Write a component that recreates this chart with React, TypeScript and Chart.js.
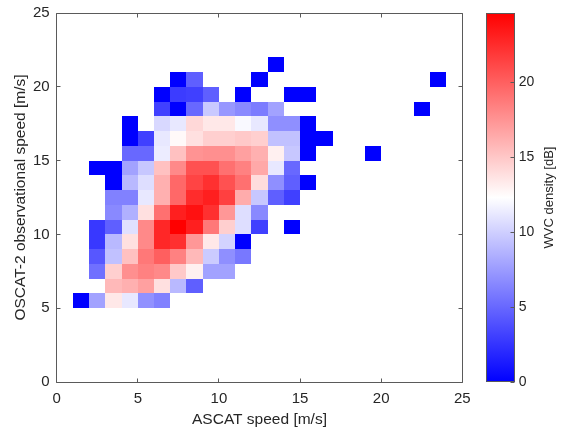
import React, { useEffect, useRef } from "react";
import { Chart, registerables } from "chart.js";

Chart.register(...registerables);

const N = null;

// Axis ticks
const xTickValues = [0, 5, 10, 15, 20, 25];
const yTickValues = [0, 5, 10, 15, 20, 25];
const colorbarTicks = [0, 5, 10, 15, 20];
const COLOR_MAX = 24.6;

// WVC density [dB] per 1 m/s bin; index = ASCAT speed bin start (0..23)
const row5 = [N, 0, 7.8, 13.4, 11.2, 7.0, 6.2];
const row6 = [N, N, 12.3, 15.7, 16.1, 16.9, 13.8, 8.9, 4.6];
const row7 = [N, N, 5.4, 14.6, 17.7, 18.4, 18.0, 14.9, 13.0, 7.8, 7.8];
const row8 = [N, N, 4.2, 9.3, 15.3, 18.8, 20.0, 18.4, 15.7, 9.8, 6.9, 5.8];
const row9 = [N, N, 2.7, 8.9, 13.8, 18.0, 22.7, 22.3, 17.3, 13.4, 10.2, 0];
const row10 = [N, N, 2.7, 4.6, 10.8, 18.0, 22.7, 24.6, 23.1, 18.8, 14.6, 10.7, 3.1, N, 0];
const row11 = [N, N, N, 6.6, 8.5, 13.8, 19.2, 23.1, 23.8, 22.3, 17.3, 10.7, 6.6];
const row12 = [N, N, N, 6.2, 6.2, 11.2, 16.1, 19.6, 22.5, 23.1, 21.5, 16.3, 9.6, 4.6, 3.1];
const row13 = [N, N, N, 0, 8.9, 10.7, 16.1, 19.6, 21.3, 22.3, 20.7, 19.2, 14.0, 6.9, 4.6, 0];
const row14 = [N, N, 0, 0, 7.8, 9.6, 15.3, 18.0, 20.7, 20.7, 19.2, 18.4, 16.5, 11.2, 5.0];
const row15 = [N, N, N, N, 5.0, 5.0, 11.4, 15.3, 17.5, 17.7, 17.7, 16.9, 16.1, 13.0, 9.6, 0, N, N, N, 0];
const row16 = [N, N, N, N, 0, 3.1, 11.2, 12.6, 13.8, 14.6, 14.6, 14.9, 14.6, 9.3, 9.3, 0, 0];
const row17 = [N, N, N, N, 0, N, 10.4, 11.2, 14.2, 13.4, 13.4, 12.0, 11.2, 6.9, 6.9, 0];
const row18 = [N, N, N, N, N, N, 3.1, 0, 5.0, 9.7, 7.3, 6.6, 6.0, 7.8, N, N, N, N, N, N, N, N, 0];
const row19 = [N, N, N, N, N, N, 0, 2.9, 3.1, 4.6, N, 0, N, N, 0, 0];
const row20 = [N, N, N, N, N, N, N, 0, 4.6, N, N, N, 0, N, N, N, N, N, N, N, N, N, N, 0];
const row21 = [N, N, N, N, N, N, N, N, N, N, N, N, N, 0];

// OSCAT-2 speed bin start for each row
const rowBins = [5, 6, 7, 8, 9, 10, 11, 12, 13, 14, 15, 16, 17, 18, 19, 20, 21];
const rows = [row5, row6, row7, row8, row9, row10, row11, row12, row13, row14, row15, row16, row17, row18, row19, row20, row21];

const FONT = "'Liberation Sans', Arial, Helvetica, sans-serif";
const TEXT = "#262626";
const AXIS = "#5a5a5a";

function colorFor(v: number): string {
  const mid = COLOR_MAX / 2;
  const t = Math.max(0, Math.min(COLOR_MAX, v));
  if (t <= mid) {
    const k = Math.round((255 * t) / mid);
    return `rgb(${k},${k},255)`;
  }
  const k = Math.round((255 * (COLOR_MAX - t)) / mid);
  return `rgb(255,${k},${k})`;
}

const heatPlugin = {
  id: "heatCells",
  beforeDatasetsDraw(chart: any) {
    const { ctx } = chart;
    const xs = chart.scales.x;
    const ys = chart.scales.y;
    const ds = chart.data.datasets[0];
    ctx.save();
    for (const p of ds.data as any[]) {
      const x0 = Math.round(xs.getPixelForValue(p.bx));
      const x1 = Math.round(xs.getPixelForValue(p.bx + 1));
      const y0 = Math.round(ys.getPixelForValue(p.by + 1));
      const y1 = Math.round(ys.getPixelForValue(p.by));
      ctx.fillStyle = colorFor(p.v);
      ctx.fillRect(x0, y0, x1 - x0, y1 - y0);
    }
    ctx.restore();
  },
};

const framePlugin = {
  id: "frameAndColorbar",
  afterDraw(chart: any) {
    const { ctx, chartArea } = chart;
    const xs = chart.scales.x;
    const ys = chart.scales.y;
    const cb = chart.scales.cb;
    const L = Math.floor(chartArea.left) + 0.5;
    const R = Math.floor(chartArea.right) + 0.5;
    const T = Math.floor(chartArea.top) + 0.5;
    const B = Math.floor(chartArea.bottom) + 0.5;
    const tl = 4;
    ctx.save();
    ctx.strokeStyle = AXIS;
    ctx.lineWidth = 1;
    ctx.beginPath();
    ctx.rect(L, T, R - L, B - T);
    for (const v of xTickValues) {
      const px = Math.floor(xs.getPixelForValue(v)) + 0.5;
      ctx.moveTo(px, B);
      ctx.lineTo(px, B - tl);
      ctx.moveTo(px, T);
      ctx.lineTo(px, T + tl);
    }
    for (const v of yTickValues) {
      const py = Math.floor(ys.getPixelForValue(v)) + 0.5;
      ctx.moveTo(L, py);
      ctx.lineTo(L + tl, py);
      ctx.moveTo(R, py);
      ctx.lineTo(R - tl, py);
    }
    ctx.stroke();

    // colorbar
    const cbLeft = 486;
    const cbRight = 515;
    const cbTop = Math.round(cb.getPixelForValue(COLOR_MAX));
    const cbBottom = Math.round(cb.getPixelForValue(0));
    const g = ctx.createLinearGradient(0, cbBottom, 0, cbTop);
    g.addColorStop(0, colorFor(0));
    g.addColorStop(0.5, colorFor(COLOR_MAX / 2));
    g.addColorStop(1, colorFor(COLOR_MAX));
    ctx.fillStyle = g;
    ctx.fillRect(cbLeft, cbTop, cbRight - cbLeft, cbBottom - cbTop);
    ctx.beginPath();
    ctx.rect(cbLeft + 0.5, cbTop + 0.5, cbRight - cbLeft - 1, cbBottom - cbTop - 1);
    for (const v of colorbarTicks) {
      const py = Math.floor(cb.getPixelForValue(v)) + 0.5;
      ctx.moveTo(cbRight - 0.5, py);
      ctx.lineTo(cbRight - 0.5 - tl, py);
    }
    ctx.stroke();

    // colorbar label
    ctx.translate(549, (cbTop + cbBottom) / 2);
    ctx.rotate(-Math.PI / 2);
    ctx.fillStyle = TEXT;
    ctx.font = `13px ${FONT}`;
    ctx.textAlign = "center";
    ctx.textBaseline = "middle";
    ctx.fillText("WVC density [dB]", 0, 0);
    ctx.restore();
  },
};

export default function App() {
  const ref = useRef<HTMLCanvasElement | null>(null);

  useEffect(() => {
    if (!ref.current) return;
    const points: any[] = [];
    rows.forEach((row, ri) => {
      row.forEach((v, ci) => {
        if (v === null || v === undefined) return;
        points.push({ x: ci + 0.5, y: rowBins[ri] + 0.5, bx: ci, by: rowBins[ri], v });
      });
    });

    const chart = new Chart(ref.current, {
      type: "scatter",
      data: {
        datasets: [
          {
            data: points,
            pointRadius: 0,
            pointHoverRadius: 0,
            xAxisID: "x",
            yAxisID: "y",
          },
        ],
      },
      options: {
        responsive: false,
        animation: false,
        events: [],
        layout: { padding: { left: 0, right: 0, top: 13, bottom: 0 } },
        plugins: {
          legend: { display: false },
          tooltip: { enabled: false },
        },
        scales: {
          x: {
            type: "linear",
            position: "bottom",
            min: 0,
            max: 25,
            afterBuildTicks: (s: any) => {
              s.ticks = xTickValues.map((value) => ({ value }));
            },
            ticks: { font: { family: FONT, size: 15 }, color: TEXT, padding: 8, maxRotation: 0, autoSkip: false },
            grid: { display: false, drawTicks: false },
            border: { display: false },
            title: {
              display: true,
              text: "ASCAT speed [m/s]",
              font: { family: FONT, size: 15.5 },
              color: TEXT,
              padding: { top: 0, bottom: 1.7 },
            },
            afterFit: (s: any) => {
              s.height = 49;
              s.paddingLeft = 0;
              s.paddingRight = 0;
            },
          },
          y: {
            type: "linear",
            position: "left",
            min: 0,
            max: 25,
            afterBuildTicks: (s: any) => {
              s.ticks = yTickValues.map((value) => ({ value }));
            },
            ticks: { font: { family: FONT, size: 15 }, color: TEXT, padding: 7, autoSkip: false },
            grid: { display: false, drawTicks: false },
            border: { display: false },
            title: {
              display: true,
              text: "OSCAT-2 observational speed [m/s]",
              font: { family: FONT, size: 15.5 },
              color: TEXT,
              padding: { top: 11.7, bottom: 0 },
            },
            afterFit: (s: any) => {
              s.width = 56.7;
              s.paddingTop = 0;
              s.paddingBottom = 0;
            },
          },
          cb: {
            type: "linear",
            position: "right",
            min: 0,
            max: COLOR_MAX,
            afterBuildTicks: (s: any) => {
              s.ticks = colorbarTicks.map((value) => ({ value }));
            },
            ticks: { font: { family: FONT, size: 14 }, color: TEXT, padding: 56.5, autoSkip: false },
            grid: { display: false, drawTicks: false },
            border: { display: false },
            afterFit: (s: any) => {
              s.width = 98.7;
              s.paddingTop = 0;
              s.paddingBottom = 0;
            },
          },
        } as any,
      },
      plugins: [heatPlugin, framePlugin],
    });
    return () => chart.destroy();
  }, []);

  return (
    <div style={{ position: "fixed", left: 0, top: 0, width: 561, height: 431, background: "#fff" }}>
      <canvas ref={ref} width={561} height={431} style={{ display: "block", width: 561, height: 431 }} />
    </div>
  );
}
